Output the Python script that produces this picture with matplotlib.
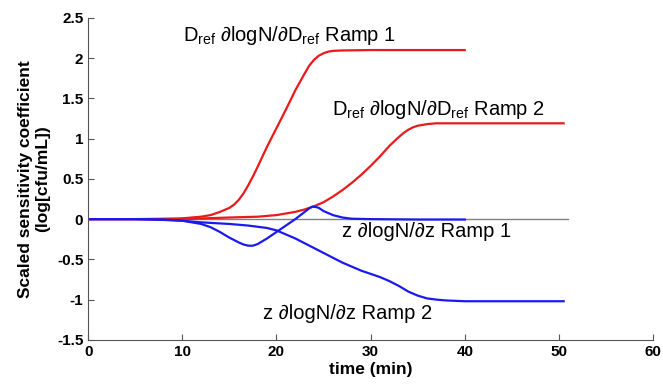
import matplotlib.pyplot as plt
import numpy as np

plt.rcParams['font.family'] = ['Liberation Sans', 'DejaVu Sans']
plt.rcParams['mathtext.fontset'] = 'custom'
plt.rcParams['mathtext.rm'] = 'Liberation Sans'

# Dref sensitivity, ramp 1
t_d1 = [0, 5, 8, 10, 12, 13, 14, 15, 15.5, 16, 16.5, 17, 17.5, 18, 19, 20, 21, 22, 23, 23.5, 24, 24.5, 25, 25.5, 26, 27, 30, 35, 40]
s_d1 = [0, 0, 0.005, 0.01, 0.03, 0.05, 0.09, 0.14, 0.18, 0.24, 0.32, 0.42, 0.53, 0.65, 0.9, 1.13, 1.36, 1.6, 1.81, 1.91, 1.98, 2.03, 2.06, 2.08, 2.09, 2.095, 2.1, 2.1, 2.1]
# Dref sensitivity, ramp 2
t_d2 = [0, 5, 10, 15, 18, 20, 22, 23, 24, 25, 26, 27, 28, 29, 30, 31, 32, 33, 33.5, 34, 34.5, 35, 36, 37, 38, 40, 45, 50.5]
s_d2 = [0, 0, 0.0, 0.02, 0.03, 0.05, 0.09, 0.12, 0.16, 0.21, 0.28, 0.36, 0.45, 0.55, 0.66, 0.78, 0.91, 1.02, 1.07, 1.11, 1.14, 1.16, 1.18, 1.19, 1.19, 1.19, 1.19, 1.19]
# z sensitivity, ramp 1
t_z1 = [0, 5, 8, 10, 12, 13, 14, 15, 16, 16.5, 17, 17.5, 18, 19, 20, 21, 22, 23, 23.5, 23.8, 24.2, 24.5, 25, 26, 27, 28, 30, 35, 40]
s_z1 = [0, 0, -0.005, -0.02, -0.06, -0.1, -0.16, -0.23, -0.29, -0.315, -0.33, -0.33, -0.31, -0.24, -0.16, -0.08, 0.0, 0.09, 0.135, 0.155, 0.15, 0.14, 0.1, 0.05, 0.02, 0.005, 0.0, -0.005, -0.005]
# z sensitivity, ramp 2
t_z2 = [0, 5, 8, 10, 12, 15, 17, 19, 20, 21, 22, 23, 25, 27, 29, 30, 31, 32, 33, 34, 35, 36, 37, 38, 40, 45, 50.5]
s_z2 = [0, 0, -0.01, -0.02, -0.04, -0.06, -0.08, -0.11, -0.14, -0.19, -0.24, -0.3, -0.42, -0.54, -0.64, -0.68, -0.72, -0.77, -0.83, -0.9, -0.95, -0.985, -1.0, -1.01, -1.02, -1.02, -1.02]

fig = plt.figure(figsize=(6.63, 3.88), dpi=100)
ax = fig.add_axes([0.133, 0.124, 0.852, 0.83])

ax.plot([0, 51], [0, 0], color='#808080', lw=1)
ax.plot(t_d1, s_d1, color='#e81a1a', lw=1.6)
ax.plot(t_d2, s_d2, color='#e81a1a', lw=1.6)
ax.plot(t_z1, s_z1, color='#1a1aee', lw=1.6)
ax.plot(t_z2, s_z2, color='#1a1aee', lw=1.6)

tf = dict(fontsize=14.5, ha='center', va='center')
ax.text(21.4, 2.28, r'D$_{\rm ref}$ ∂logN/∂D$_{\rm ref}$ Ramp 1', **tf)
ax.text(37.2, 1.36, r'D$_{\rm ref}$ ∂logN/∂D$_{\rm ref}$ Ramp 2', **tf)
ax.text(35.9, -0.15, 'z ∂logN/∂z Ramp 1', **tf)
ax.text(27.5, -1.17, 'z ∂logN/∂z Ramp 2', **tf)

ax.set_xlim(0, 60)
ax.set_ylim(-1.5, 2.5)
ax.set_xticks([0, 10, 20, 30, 40, 50, 60])
ax.set_yticks([-1.5, -1, -0.5, 0, 0.5, 1, 1.5, 2, 2.5])
ax.set_yticklabels(['-1.5', '-1', '-0.5', '0', '0.5', '1', '1.5', '2', '2.5'])
ax.tick_params(direction='in', length=4, labelsize=11, color='#555555')
for lab in ax.get_xticklabels() + ax.get_yticklabels():
    lab.set_fontweight('bold')
ax.spines['top'].set_visible(False)
ax.spines['right'].set_visible(False)
ax.spines['left'].set_color('#555555')
ax.spines['bottom'].set_color('#555555')
ax.set_xlabel('time (min)', fontsize=12.5, fontweight='bold', labelpad=2)
ax.set_ylabel('Scaled sensitivity coefficient\n(log[cfu/mL])', fontsize=12.5, fontweight='bold', labelpad=5)

fig.savefig('out.png', dpi=100)
